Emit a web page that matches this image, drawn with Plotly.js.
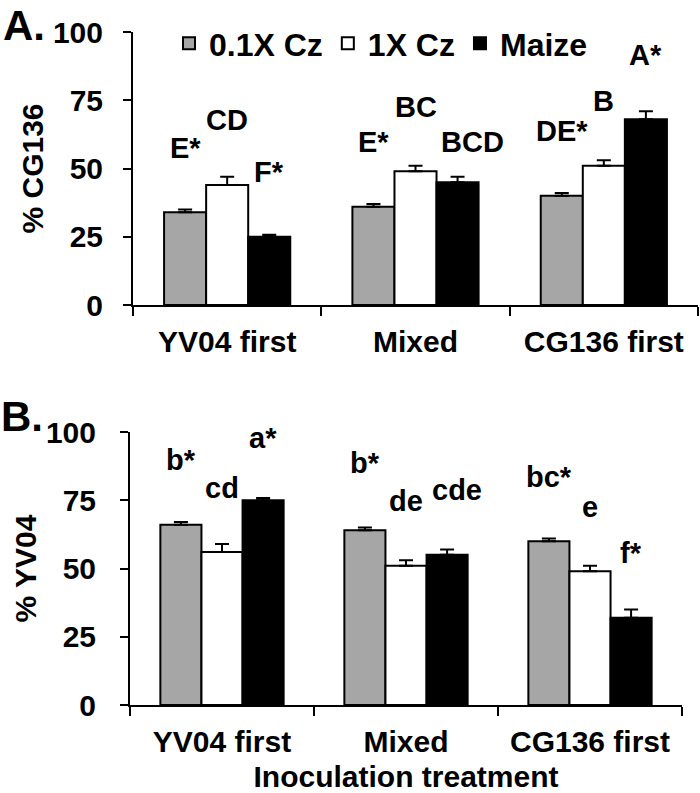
<!DOCTYPE html>
<html>
<head>
<meta charset="utf-8">
<script src="https://cdn.plot.ly/plotly-3.0.1.min.js"></script>
<style>html,body{margin:0;padding:0;background:#fff;}#chart{width:700px;height:793px;}</style>
</head>
<body>
<div id="chart"></div>
<script>
// ---- data ----
const categories = ['YV04 first', 'Mixed', 'CG136 first'];
const seriesNames = ['0.1X Cz', '1X Cz', 'Maize'];
const yTicks = [0, 25, 50, 75, 100];

// Panel A: % CG136
const cg136_low = [34, 36, 40];
const cg136_low_err = [1, 1, 1];
const cg136_high = [44, 49, 51];
const cg136_high_err = [3, 2, 2];
const cg136_maize = [25, 45, 68];
const cg136_maize_err = [0.7, 2, 3];

// Panel B: % YV04
const yv04_low = [66, 64, 60];
const yv04_low_err = [1, 1, 1];
const yv04_high = [56, 51, 49];
const yv04_high_err = [3, 2, 2];
const yv04_maize = [75, 55, 32];
const yv04_maize_err = [0.8, 2, 3];

// significance letters
const lettersA_low = ['E*', 'E*', 'DE*'];
const lettersA_high = ['CD', 'BC', 'B'];
const lettersA_maize = ['F*', 'BCD', 'A*'];
const lettersB_low = ['b*', 'b*', 'bc*'];
const lettersB_high = ['cd', 'de', 'e'];
const lettersB_maize = ['a*', 'cde', 'f*'];
// letter baseline heights (axis units)
const letterYA_low = [54, 56, 60];
const letterYA_high = [64, 69, 71];
const letterYA_maize = [45, 56, 88];
const letterYB_low = [86, 85, 80];
const letterYB_high = [76, 71, 69];
const letterYB_maize = [94, 75, 52];

// ---- style ----
const FONT = 'Liberation Sans, Arial, Helvetica, sans-serif';
const FS = 30;
const colors = ['#a6a6a6', '#ffffff', '#000000'];
const bargap = 0.33;

function bar(y, err, i, xa, ya, showleg) {
  return {
    type: 'bar', x: categories, y: y, name: seriesNames[i],
    xaxis: xa, yaxis: ya, showlegend: showleg, legendgroup: seriesNames[i],
    marker: {color: colors[i], line: {color: '#000', width: 2}},
    error_y: {type: 'data', array: err, arrayminus: err.map(() => 0), symmetric: false,
              color: '#000', thickness: 2, width: 7}
  };
}

const data = [
  bar(cg136_low, cg136_low_err, 0, 'x', 'y', true),
  bar(cg136_high, cg136_high_err, 1, 'x', 'y', true),
  bar(cg136_maize, cg136_maize_err, 2, 'x', 'y', true),
  bar(yv04_low, yv04_low_err, 0, 'x2', 'y2', false),
  bar(yv04_high, yv04_high_err, 1, 'x2', 'y2', false),
  bar(yv04_maize, yv04_maize_err, 2, 'x2', 'y2', false)
];

const annotations = [];
const bw = (1 - bargap) / 3;
function addLetters(letters, ys, si, xref, yref, shifts) {
  letters.forEach((t, ci) => {
    annotations.push({
      text: t, x: ci + (si - 1) * bw, y: ys[ci], xref: xref, yref: yref,
      xanchor: 'center', yanchor: 'bottom', yshift: -8, xshift: shifts ? shifts[ci] : 0,
      showarrow: false, font: {family: FONT, size: 29, color: '#000', weight: 700}
    });
  });
}
addLetters(lettersA_low, letterYA_low, 0, 'x', 'y');
addLetters(lettersA_high, letterYA_high, 1, 'x', 'y');
addLetters(lettersA_maize, letterYA_maize, 2, 'x', 'y', [0, 15, 0]);
addLetters(lettersB_low, letterYB_low, 0, 'x2', 'y2');
addLetters(lettersB_high, letterYB_high, 1, 'x2', 'y2');
addLetters(lettersB_maize, letterYB_maize, 2, 'x2', 'y2', [0, 10, 0]);

annotations.push({text: 'A.', xref: 'paper', yref: 'paper', x: 24 / 700, y: 1,
  xanchor: 'center', yanchor: 'top', showarrow: false,
  font: {family: FONT, size: 42, color: '#000', weight: 700}});
annotations.push({text: 'B.', xref: 'paper', yref: 'paper', x: 22 / 700, y: 1 - 417 / 793,
  xanchor: 'center', yanchor: 'middle', showarrow: false,
  font: {family: FONT, size: 42, color: '#000', weight: 700}});

const tickFont = {family: FONT, size: FS, color: '#000', weight: 700};
function xAxis(domain, anchor, title) {
  const ax = {
    domain: domain, anchor: anchor, type: 'category', range: [-0.5, 2.5],
    showline: true, linecolor: '#000', linewidth: 2, showgrid: false, zeroline: false,
    ticks: 'outside', tickson: 'boundaries', ticklen: 9, tickwidth: 2, tickcolor: '#000',
    tickfont: tickFont, ticklabelstandoff: 9, fixedrange: true
  };
  if (title) ax.title = {text: title, font: tickFont, standoff: 11};
  return ax;
}
function yAxis(domain, anchor, title, standoff, tstand) {
  return {
    domain: domain, anchor: anchor, range: [0, 100], tickvals: yTicks,
    showline: true, linecolor: '#000', linewidth: 2, showgrid: false, zeroline: false,
    ticks: 'outside', ticklen: 8, tickwidth: 2, tickcolor: '#000',
    tickfont: tickFont, ticklabelstandoff: tstand, fixedrange: true,
    title: {text: title, font: tickFont, standoff: standoff}
  };
}

const layout = {
  width: 700, height: 793,
  margin: {l: 0, r: 0, t: 0, b: 0},
  paper_bgcolor: '#fff', plot_bgcolor: '#fff',
  barmode: 'group', bargap: bargap, bargroupgap: 0,
  font: {family: FONT, size: FS, color: '#000'},
  xaxis: xAxis([133 / 700, 698 / 700], 'y'),
  yaxis: yAxis([1 - 305 / 793, 1 - 32 / 793], 'x', '% CG136', 0, 14),
  xaxis2: xAxis([130 / 700, 682 / 700], 'y2', 'Inoculation treatment'),
  yaxis2: yAxis([1 - 705 / 793, 1 - 432 / 793], 'x2', '% YV04', 0, 18),
  legend: {orientation: 'h', x: 169 / 700, y: 1 - 16 / 793, xanchor: 'left', yanchor: 'top',
           font: {family: FONT, size: 32, color: '#000', weight: 700},
           bgcolor: 'rgba(0,0,0,0)', itemwidth: 30, traceorder: 'normal'},
  annotations: annotations,
  showlegend: true
};

Plotly.newPlot('chart', data, layout, {displayModeBar: false, staticPlot: true});
</script>
</body>
</html>
